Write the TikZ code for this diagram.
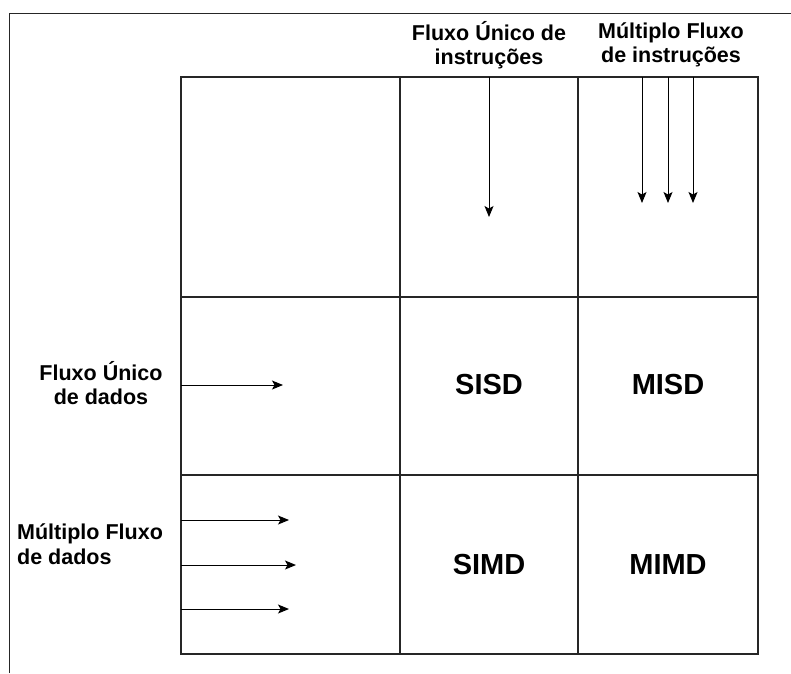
\documentclass[tikz,border=0pt]{standalone}
\usepackage{fontspec}
\setmainfont{Liberation Sans}
\usetikzlibrary{arrows.meta}

\tikzset{
  flow/.style={-{Stealth[length=11pt,width=9pt,inset=2.5pt]}, line width=1pt},
  rule/.style={line width=1.3pt, draw=black!85},
  lbl/.style={font=\fontsize{21.5}{24.5}\selectfont\bfseries, align=center, inner sep=0pt},
  cls/.style={font=\fontsize{29}{34}\selectfont\bfseries, inner sep=0pt}
}

\begin{document}
\begin{tikzpicture}[x=1pt,y=-1pt]
    \useasboundingbox (0,0) rectangle (791,673);

    % draw outer frame
    \draw[rule] (9.5,673) -- (9.5,13.5) -- (791,13.5);

    % draw table
    \draw[rule] (181,77) rectangle (758,654);
    \foreach \x in {400,578}
      \draw[rule] (\x,77) -- (\x,654);
    \foreach \y in {297,475}
      \draw[rule] (181,\y) -- (758,\y);

    % draw stream labels
    \node[lbl] (si) at (489,45) {Fluxo Único de\\instruções};
    \node[lbl] (mi) at (671,45) {Múltiplo Fluxo\\de instruções};
    \node[lbl] (sd) at (101,383) {Fluxo Único\\de dados};
    \node[lbl, align=left, anchor=west] (md) at (17,544) {Múltiplo Fluxo\\de dados};

    % draw classes
    \node[cls] (sisd) at (489,385) {SISD};
    \node[cls] (misd) at (668,385) {MISD};
    \node[cls] (simd) at (489,565) {SIMD};
    \node[cls] (mimd) at (668,565) {MIMD};

    % draw instruction streams
    \coordinate (sis) at (489,77);
    \coordinate (sie) at (489,217);
    \draw[flow] (sis) -- (sie);
    \foreach \x [count=\i] in {642,668,693} {
      \coordinate (mis\i) at (\x,77);
      \coordinate (mie\i) at (\x,203);
      \draw[flow] (mis\i) -- (mie\i);
    }

    % draw data streams
    \coordinate (sds) at (181,385);
    \coordinate (sde) at (283,385);
    \draw[flow] (sds) -- (sde);
    \foreach \y/\e [count=\i] in {520/289,565/296,609/289} {
      \coordinate (mds\i) at (181,\y);
      \coordinate (mde\i) at (\e,\y);
      \draw[flow] (mds\i) -- (mde\i);
    }
\end{tikzpicture}
\end{document}
